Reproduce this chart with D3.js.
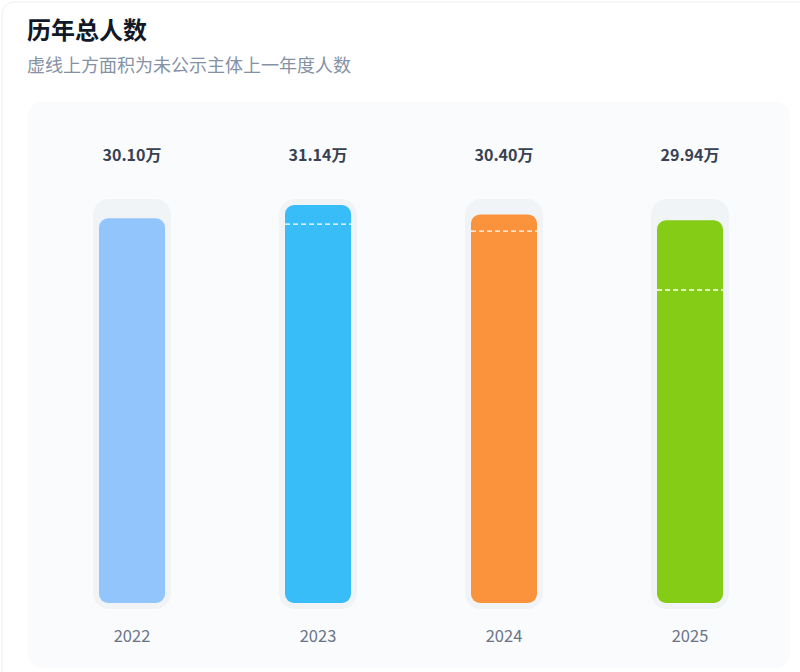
<!DOCTYPE html>
<html><head><meta charset="utf-8">
<script src="https://cdn.jsdelivr.net/npm/d3@7"></script>
<style>
html,body{margin:0;padding:0;background:#fff;}
svg{display:block;font-family:"Noto Sans CJK SC","Noto Sans",sans-serif;}
</style></head>
<body>
<svg id="c" width="800" height="672"></svg>
<script>
const years = ["2022","2023","2024","2025"];
const totals = [30.10, 31.14, 30.40, 29.94];
// level of dashed line (total minus entities not disclosed in previous year); null = none
const dashed = [null, 29.65, 29.10, 24.49];
const colors = ["#93c5fd","#38bdf8","#fb923c","#84cc16"];
const labels = totals.map(v => v.toFixed(2) + "万");

const svg = d3.select("#c");
// outer card
svg.append("rect").attr("x",2).attr("y",2).attr("width",830).attr("height",700)
  .attr("rx",12).attr("fill","#fff").attr("stroke","#eceef2");
svg.append("text").attr("x",27).attr("y",39).attr("font-size",24).attr("font-weight",700)
  .attr("fill","#111827").text("历年总人数");
svg.append("text").attr("x",27).attr("y",72).attr("font-size",18)
  .attr("fill","#8591a5").text("虚线上方面积为未公示主体上一年度人数");
// inner panel
svg.append("rect").attr("x",28).attr("y",102).attr("width",762).attr("height",566)
  .attr("rx",14).attr("fill","#f9fbfd");

const x = d3.scaleBand().domain(years).range([39,783]).paddingInner(0).paddingOuter(0);
const y = d3.scaleLinear().domain([0, d3.max(totals)]).range([603,205]);
const barW = 66, pad = 6;

const g = svg.append("g");
years.forEach((yr,i) => {
  const cx = x(yr) + x.bandwidth()/2;
  g.append("rect").attr("x",cx-barW/2-pad).attr("y",y.range()[1]-pad)
    .attr("width",barW+2*pad).attr("height",y.range()[0]-y.range()[1]+2*pad)
    .attr("rx",16).attr("fill","#f1f4f7");
  g.append("rect").attr("x",cx-barW/2).attr("y",y(totals[i]))
    .attr("width",barW).attr("height",y(0)-y(totals[i]))
    .attr("rx",9).attr("fill",colors[i]);
  if (dashed[i] != null) {
    g.append("line").attr("x1",cx-barW/2).attr("x2",cx+barW/2)
      .attr("y1",y(dashed[i])).attr("y2",y(dashed[i]))
      .attr("stroke","#fff").attr("stroke-width",1.3).attr("stroke-dasharray","5,3");
  }
  g.append("text").attr("x",cx).attr("y",161).attr("text-anchor","middle")
    .attr("font-size",16).attr("font-weight",700).attr("fill","#374151").text(labels[i]);
  g.append("text").attr("x",cx).attr("y",642).attr("text-anchor","middle")
    .attr("font-size",16.5).attr("fill","#6b7487").text(yr);
});
</script>
</body></html>
